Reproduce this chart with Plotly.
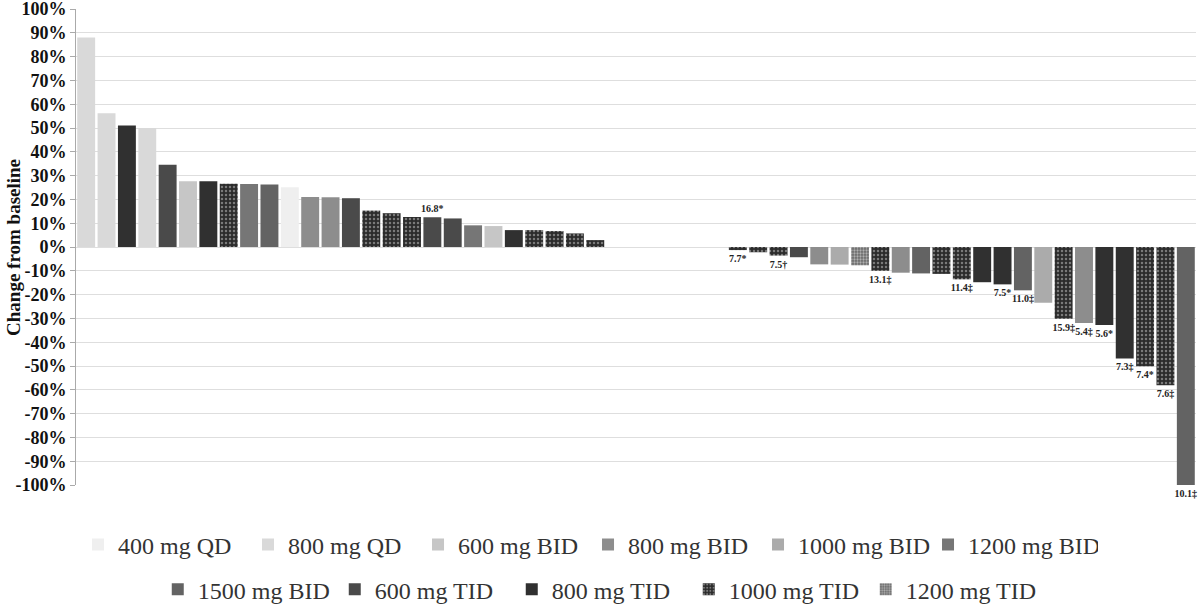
import plotly.graph_objects as go

# ---------------- data ----------------
patients = list(range(1, 56))

change_pct = [
    88.0, 56.2, 51.0, 50.0, 34.6, 27.6, 27.6, 26.6, 26.5, 26.3, 25.1, 21.0, 20.9, 20.5,
    15.3, 14.2, 12.6, 12.5, 12.0, 9.1, 8.8, 7.1, 7.1, 6.7, 5.7, 2.9,
    None, None, None, None, None, None,
    -1.3, -2.2, -3.6, -4.3, -7.3, -7.4, -7.7, -10.0, -10.8, -11.1, -11.3, -13.6,
    -14.8, -15.7, -18.2, -23.4, -30.1, -31.9, -32.8, -46.8, -50.1, -58.1, -100.0,
]

dose_group = [
    "800 mg QD", "800 mg QD", "800 mg TID", "800 mg QD", "600 mg TID", "600 mg BID",
    "800 mg TID", "1000 mg TID", "1200 mg BID", "1500 mg BID", "400 mg QD", "800 mg BID",
    "800 mg BID", "600 mg TID", "1000 mg TID", "1000 mg TID", "1000 mg TID", "600 mg TID",
    "600 mg TID", "1200 mg BID", "600 mg BID", "800 mg TID", "1000 mg TID", "1000 mg TID",
    "1000 mg TID", "1000 mg TID",
    None, None, None, None, None, None,
    "1000 mg TID", "1000 mg TID", "1000 mg TID", "600 mg TID", "800 mg BID", "1000 mg BID",
    "1200 mg TID", "1000 mg TID", "800 mg BID", "1500 mg BID", "1000 mg TID", "1000 mg TID",
    "800 mg TID", "800 mg TID", "1500 mg BID", "1000 mg BID", "1000 mg TID", "800 mg BID",
    "800 mg TID", "800 mg TID", "1000 mg TID", "1000 mg TID", "1500 mg BID",
]

bar_labels = [
    "", "", "", "", "", "", "", "", "", "", "", "", "", "",
    "", "", "", "16.8*", "", "", "", "", "", "", "", "",
    "", "", "", "", "", "",
    "7.7*", "", "7.5†", "", "", "", "", "13.1‡", "", "", "", "11.4‡",
    "", "7.5*", "11.0‡", "", "15.9‡", "5.4‡", "5.6*", "7.3‡", "7.4*", "7.6‡", "10.1‡",
]

dose_levels = [
    "400 mg QD", "800 mg QD", "600 mg BID", "800 mg BID", "1000 mg BID", "1200 mg BID",
    "1500 mg BID", "600 mg TID", "800 mg TID", "1000 mg TID", "1200 mg TID",
]

y_tick_values = [-100, -90, -80, -70, -60, -50, -40, -30, -20, -10,
                 0, 10, 20, 30, 40, 50, 60, 70, 80, 90, 100]
y_tick_labels = ["-100%", "-90%", "-80%", "-70%", "-60%", "-50%", "-40%", "-30%", "-20%", "-10%",
                 "0%", "10%", "20%", "30%", "40%", "50%", "60%", "70%", "80%", "90%", "100%"]

# ---------------- styles ----------------
SERIF = "Liberation Serif"
group_style = {
    "400 mg QD":   dict(color="#efefef"),
    "800 mg QD":   dict(color="#d9d9d9"),
    "600 mg BID":  dict(color="#c6c6c6"),
    "800 mg BID":  dict(color="#8d8d8d"),
    "1000 mg BID": dict(color="#ababab"),
    "1200 mg BID": dict(color="#767676"),
    "1500 mg BID": dict(color="#636363"),
    "600 mg TID":  dict(color="#4a4a4a"),
    "800 mg TID":  dict(color="#303030"),
    "1000 mg TID": dict(color="#2b2b2b",
                        pattern=dict(shape=".", bgcolor="#2b2b2b", fgcolor="#7a7a7a",
                                     size=4, solidity=0.3, fillmode="replace")),
    "1200 mg TID": dict(color="#6a6a6a",
                        pattern=dict(shape=".", bgcolor="#6a6a6a", fgcolor="#b0b0b0",
                                     size=3, solidity=0.45, fillmode="replace")),
}

fig = go.Figure()
for i, level in enumerate(dose_levels):
    xs, ys, ts = [], [], []
    for p, v, g, t in zip(patients, change_pct, dose_group, bar_labels):
        if g == level and v is not None:
            xs.append(p)
            ys.append(v)
            ts.append(t)
    st = group_style[level]
    marker = dict(color=st["color"], line=dict(width=0))
    if "pattern" in st:
        marker["pattern"] = st["pattern"]
    fig.add_trace(go.Bar(
        x=xs, y=ys, name=level, text=ts,
        textposition="outside", constraintext="none", cliponaxis=False,
        outsidetextfont=dict(family=SERIF, size=10, color="#222222", weight="bold"),
        marker=marker, width=0.88,
        legend="legend" if i < 6 else "legend2",
        hoverinfo="x+y+name",
    ))

legend_font = dict(family=SERIF, size=24, color="#333333")

fig.update_layout(
    width=1200, height=604,
    margin=dict(l=76, r=4, t=9, b=119, autoexpand=False),
    barmode="overlay",
    plot_bgcolor="white", paper_bgcolor="white",
    xaxis=dict(range=[0.5, 55.5], showgrid=False, zeroline=False, showline=False,
               showticklabels=False, ticks="", automargin=False),
    yaxis=dict(range=[-100, 100], tickmode="array", tickvals=y_tick_values,
               ticktext=y_tick_labels, automargin=False, ticklabeloverflow="allow",
               tickfont=dict(family=SERIF, size=18, color="#111111", weight="bold"),
               showgrid=True, gridcolor="#dedede", gridwidth=1,
               zeroline=True, zerolinecolor="#dedede", zerolinewidth=1,
               showline=True, linecolor="#aaaaaa", linewidth=1,
               ticks="outside", ticklen=5, tickcolor="#aaaaaa"),
    legend=dict(orientation="h", x=0.0018, xanchor="left", y=-0.126, yanchor="middle",
                font=legend_font, entrywidth=125, entrywidthmode="pixels",
                bgcolor="rgba(0,0,0,0)", traceorder="normal"),
    legend2=dict(orientation="h", x=0.073, xanchor="left", y=-0.22, yanchor="middle",
                 font=legend_font, entrywidth=132, entrywidthmode="pixels",
                 bgcolor="rgba(0,0,0,0)", traceorder="normal"),
    annotations=[dict(text="Change from baseline", xref="paper", yref="paper",
                      x=-0.0563, y=0.5, xanchor="center", yanchor="middle",
                      textangle=-90, showarrow=False,
                      font=dict(family=SERIF, size=19, color="#111111", weight="bold"))],
    showlegend=True,
)

fig.write_html("out.html", config={"displayModeBar": False},
               post_script="document.body.style.margin='0';")
